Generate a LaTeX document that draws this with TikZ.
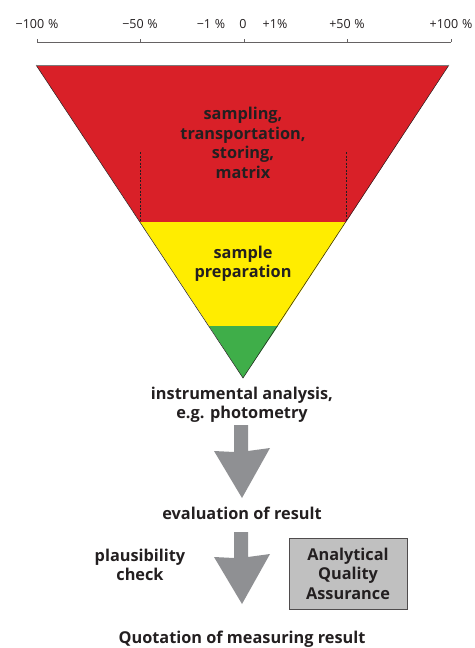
\documentclass[tikz,border=0pt]{standalone}
\usepackage{fontspec}
\setmainfont{Open Sans}
\definecolor{txt}{HTML}{231F20}
\definecolor{tred}{HTML}{D92028}
\definecolor{tyel}{HTML}{FFED00}
\definecolor{tgrn}{HTML}{3FAE49}
\definecolor{agray}{HTML}{8F9093}
\definecolor{bgray}{HTML}{C0C0C0}
\begin{document}
\begin{tikzpicture}[x=1pt,y=-1pt,
  lbl/.style={text=txt,font=\bfseries\fontsize{16.3}{19.5}\selectfont,align=center,inner sep=0pt},
  axl/.style={text=txt,font=\fontsize{12.5}{14}\selectfont,inner sep=0pt},
  bigarrow/.style={fill=agray,draw=none}]
\useasboundingbox (0,0) rectangle (474,648);
% scale
\draw[txt!70,line width=0.8pt] (37,42) -- (451,42);
\foreach \x in {37,140,244,347,451} \draw[txt!70,line width=0.8pt] (\x,42) -- (\x,38.5);
\node[axl] (l1) at (37,24) {−100\hspace{0.3em}\%};
\node[axl] (l2) at (140,24) {−50\hspace{0.3em}\%};
\node[axl] (l3) at (211,24) {−1\hspace{0.3em}\%};
\node[axl] (l4) at (243,24) {0};
\node[axl] (l5) at (275,24) {+1\%};
\node[axl] (l6) at (347,24) {+50\hspace{0.3em}\%};
\node[axl] (l7) at (451,24) {+100\hspace{0.3em}\%};
% triangle
\fill[tred] (36,65) -- (449,65) -- (346,222) -- (140,222) -- cycle;
\fill[tyel] (140,222) -- (346,222) -- (278,326) -- (209,326) -- cycle;
\fill[tgrn] (209,326) -- (278,326) -- (243,378) -- cycle;
\draw[txt,line width=0.5pt] (36,65) -- (243,378) -- (449,65);
\draw[txt!60,line width=0.6pt] (36,65) -- (449,65);
\draw[txt,dashed,dash pattern=on 2pt off 1.5pt,line width=0.5pt] (140,152) -- (140,222);
\draw[txt,dashed,dash pattern=on 2pt off 1.5pt,line width=0.5pt] (346,152) -- (346,222);
\node[lbl] (red) at (243,143) {sampling,\\transportation,\\storing,\\matrix};
\node[lbl] (yel) at (243,264) {sample\\preparation};
% lower
\node[lbl] (ins) at (242,405) {instrumental analysis,\\e.g. photometry};
\fill[bigarrow] (234,425) -- (248,425) -- (248,451) -- (270,448) -- (242,498) -- (214,451) -- (234,452) -- cycle;
\node[lbl] (eva) at (242,513) {evaluation of result};
\fill[bigarrow] (234,532) -- (248,532) -- (248,557) -- (270,554) -- (242,604) -- (214,557) -- (234,558) -- cycle;
\node[lbl] (pla) at (140,565) {plausibility\\check};
\node[draw=txt!80,fill=bgray,line width=0.8pt,minimum width=118pt,minimum height=71pt,inner sep=0pt] (aqa) at (348,573.5) {};
\node[lbl] at (aqa.center) {Analytical\\Quality\\Assurance};
\node[lbl] (quo) at (242,639) {Quotation of measuring result};
\end{tikzpicture}
\end{document}
